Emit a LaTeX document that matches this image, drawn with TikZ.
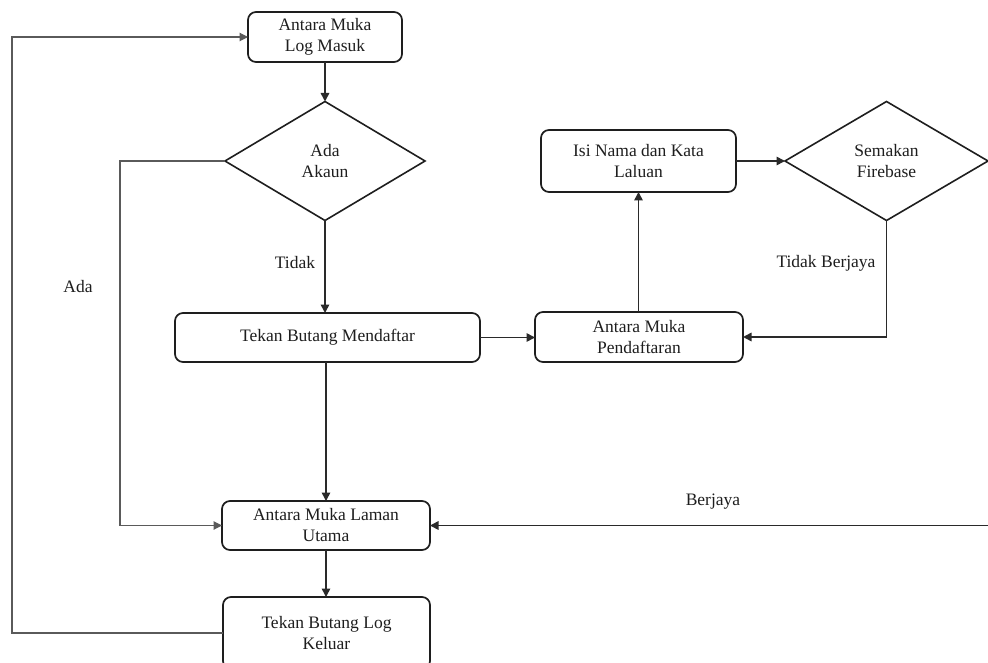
\documentclass[tikz,border=0pt]{standalone}
\usepackage{fontspec}
\setmainfont{Liberation Serif}
\usetikzlibrary{arrows.meta,shapes.geometric}
\newcommand\flowfont{\fontsize{17.5}{21}\selectfont}
\definecolor{ink}{HTML}{1E1E1E}
\definecolor{wire}{HTML}{2A2A2A}
\definecolor{paleline}{HTML}{5A5A5A}
\tikzset{
  proc/.style={draw=ink, line width=1.7pt, rounded corners=8pt, align=center,
    inner sep=0pt, outer sep=0pt, font=\flowfont, text=ink},
  decis/.style={draw=ink, line width=1.6pt, diamond, align=center,
    inner sep=0pt, outer sep=0pt, font=\flowfont, text=ink},
  flow/.style={draw=wire, line width=1.6pt, -{Triangle[length=8.5pt,width=8.5pt]}},
  backflow/.style={draw=paleline, line width=1.1pt, -{Triangle[length=8.5pt,width=8.5pt]}},
  tag/.style={font=\flowfont, text=ink, inner sep=0pt}
}
\begin{document}
\begin{tikzpicture}[x=1pt,y=-1pt]
\useasboundingbox (0,0) rectangle (988,663);
\clip (0,0) rectangle (988,663);
\fill[white] (0,0) rectangle (988,663);

% steps and decisions
\node[proc, minimum width=154pt, minimum height=50pt] (login) at (325,37) {Antara Muka\\Log Masuk};
\node[decis, minimum width=200pt, minimum height=119pt] (ada) at (325,161) {Ada\\Akaun};
\node[proc, minimum width=305pt, minimum height=49pt] (daftar) at (327.5,337.5) {Tekan Butang Mendaftar};
\node[proc, minimum width=208pt, minimum height=50pt] (pend) at (639,337) {Antara Muka\\Pendaftaran};
\node[proc, minimum width=195pt, minimum height=62pt] (isi) at (638.5,161) {Isi Nama dan Kata\\Laluan};
\node[decis, minimum width=203pt, minimum height=119pt] (semak) at (886.5,161) {Semakan\\Firebase};
\node[proc, minimum width=208pt, minimum height=49pt] (laman) at (326,525.5) {Antara Muka Laman\\Utama};
\node[proc, minimum width=207pt, minimum height=72pt] (logout) at (326.5,633) {Tekan Butang Log\\Keluar};

% free ends of the long return lines
\coordinate (leftrail) at (12,0);
\coordinate (adarail) at (120,0);
\coordinate (rightedge) at (990,525.5);

% connectors
\draw[flow] (login.south) -- (ada.north);
\draw[flow] (ada.south) -- (ada.south |- daftar.north);
\draw[flow] (daftar.east) -- (daftar.east -| pend.west);
\draw[flow] (pend.north -| isi.south) -- (isi.south);
\draw[flow] (isi.east) -- (semak.west);
\draw[flow] (semak.south) -- (semak.south |- pend.east) -- (pend.east);
\draw[flow] (daftar.south -| laman.north) -- (laman.north);
\draw[flow] (rightedge) -- (laman.east);
\draw[flow] (laman.south) -- (laman.south |- logout.north);
\draw[backflow] (ada.west) -- (adarail |- ada.west) -- (adarail |- laman.west) -- (laman.west);
\draw[backflow] (logout.west) -- (leftrail |- logout.west) -- (leftrail |- login.west) -- (login.west);

% branch labels
\node[tag] (ltidak) at (295,263) {Tidak};
\node[tag] (lada) at (78,287) {Ada};
\node[tag] (ltb) at (826,263) {Tidak Berjaya};
\node[tag] (lberjaya) at (713,502) {Berjaya};
\end{tikzpicture}
\end{document}
